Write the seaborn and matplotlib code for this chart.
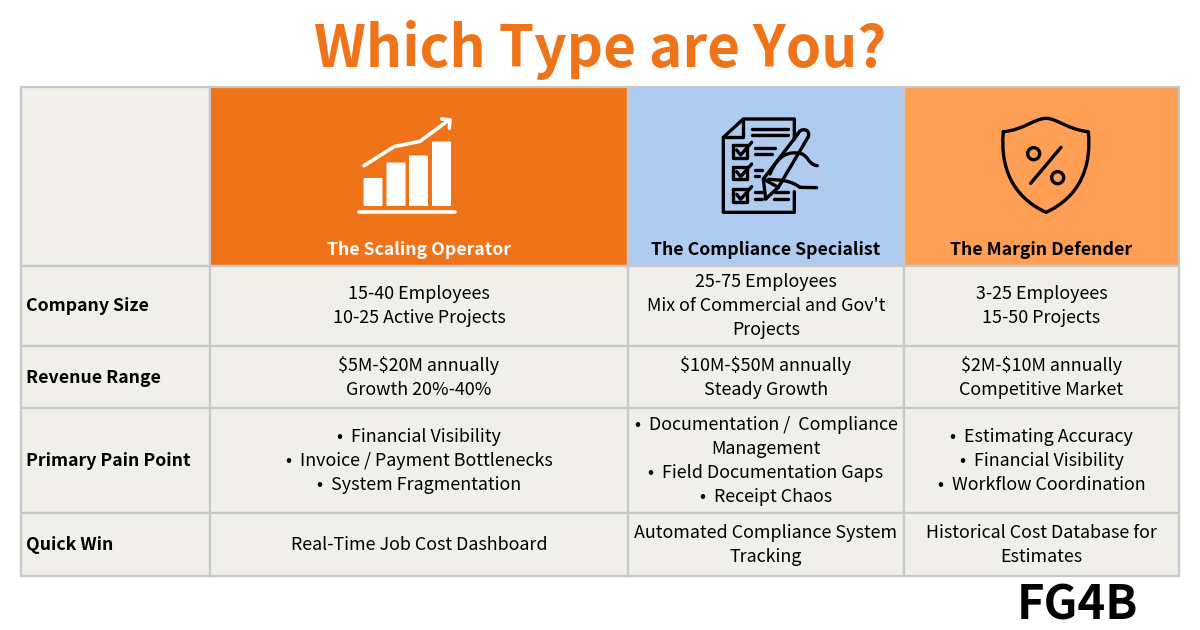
import matplotlib
matplotlib.use("Agg")
import matplotlib.pyplot as plt
import seaborn as sns
from matplotlib.patches import Rectangle, Circle, PathPatch, FancyBboxPatch
from matplotlib.path import Path

# table content
title = "Which Type are You?"
brand = "FG4B"
personas = ["The Scaling Operator", "The Compliance Specialist", "The Margin Defender"]
row_labels = ["Company Size", "Revenue Range", "Primary Pain Point", "Quick Win"]
company_size = [
    ["15-40 Employees", "10-25 Active Projects"],
    ["25-75 Employees", "Mix of Commercial and Gov't", "Projects"],
    ["3-25 Employees", "15-50 Projects"],
]
revenue_range = [
    [r"\$5M-\$20M annually", "Growth 20%-40%"],
    [r"\$10M-\$50M annually", "Steady Growth"],
    [r"\$2M-\$10M annually", "Competitive Market"],
]
pain_point = [
    ["•  Financial Visibility", "•  Invoice / Payment Bottlenecks", "•  System Fragmentation"],
    ["•  Documentation /  Compliance", "Management", "•  Field Documentation Gaps", "•  Receipt Chaos"],
    ["•  Estimating Accuracy", "•  Financial Visibility", "•  Workflow Coordination"],
]
quick_win = [
    ["Real-Time Job Cost Dashboard"],
    ["Automated Compliance System", "Tracking"],
    ["Historical Cost Database for", "Estimates"],
]
rows = [company_size, revenue_range, pain_point, quick_win]
icon_bar_heights = [28, 43.5, 50.5, 64.5]

# layout in pixels
col_edges = [21, 210, 628, 904, 1179]
row_edges = [87, 266, 346, 408, 513, 576]
row_centers = [305, 377, 459.7, 544]
header_colors = ["#EF7318", "#AFCBEF", "#FF9F55"]
header_text = ["white", "black", "black"]
ORANGE = "#EF7318"
CELL = "#F0EFEA"
BORDER = "#C8C8C8"
LINE_H = 24

sns.set_theme(style="white")
plt.rcParams["font.family"] = ["Noto Sans CJK JP", "DejaVu Sans"]

fig = plt.figure(figsize=(12, 6.3), dpi=100, facecolor="white")
ax = fig.add_axes([0, 0, 1, 1])
ax.set_xlim(0, 1200)
ax.set_ylim(630, 0)
ax.axis("off")


def cell(x0, y0, x1, y1, color):
    ax.add_patch(Rectangle((x0, y0), x1 - x0, y1 - y0, facecolor=color,
                           edgecolor=BORDER, linewidth=1.6))


def stroke(pts, color="black", lw=2.4):
    xs, ys = zip(*pts)
    ax.plot(xs, ys, color=color, lw=lw, solid_capstyle="round", solid_joinstyle="round")


def curve(verts, color="black", lw=2.4):
    # verts: start point then triples of bezier points
    codes = [Path.MOVETO] + [Path.CURVE4] * (len(verts) - 1)
    ax.add_patch(PathPatch(Path(verts, codes), facecolor="none", edgecolor=color,
                           lw=lw, capstyle="round", joinstyle="round"))


# grid
for r in range(len(row_edges) - 1):
    for c in range(len(col_edges) - 1):
        color = CELL
        if r == 0 and c > 0:
            color = header_colors[c - 1]
        cell(col_edges[c], row_edges[r], col_edges[c + 1], row_edges[r + 1], color)

# title and brand
ax.text(600, 67, title, ha="center", va="baseline", fontsize=40.8, fontweight="bold", color=ORANGE)
ax.text(1077, 620, brand, ha="center", va="baseline", fontsize=34, fontweight="bold", color="black")

# header names
for c, name in enumerate(personas):
    xc = (col_edges[c + 1] + col_edges[c + 2]) / 2
    ax.text(xc, 255, name, ha="center", va="baseline", fontsize=12.75, fontweight="bold", color=header_text[c])

# body
for r, row in enumerate(rows):
    yc = row_centers[r]
    ax.text(26, yc + 6, row_labels[r], ha="left", va="baseline", fontsize=12.75, fontweight="bold", color="black")
    for c, lines in enumerate(row):
        xc = (col_edges[c + 1] + col_edges[c + 2]) / 2
        top = yc - LINE_H * (len(lines) - 1) / 2
        for i, line in enumerate(lines):
            ax.text(xc, top + i * LINE_H + 6, line, ha="center", va="baseline", fontsize=12.9, color="black")

# icon 1: rising bars
bar_x = [373, 396, 418.5, 441.5]
for x, h in zip(bar_x, icon_bar_heights):
    ax.add_patch(FancyBboxPatch((x - 8.5, 207 - h), 17, h - 2, boxstyle="round,pad=1",
                                facecolor="white", edgecolor="none"))
stroke([(359, 211.5), (455, 211.5)], "white", 2.6)
stroke([(364, 165.7), (394, 146.7), (420, 141.3), (448, 120.7)], "white", 2.6)
stroke([(441.7, 119), (450, 120), (449.3, 128.3)], "white", 2.6)


# icon 2: checklist, coordinates from a 3x crop at (700, 100)
def p2(x, y):
    return (700 + x / 3, 100 + y / 3)


def s2(pts, lw=2.4):
    stroke([p2(*q) for q in pts], "black", lw)


s2([(283, 118), (283, 57), (130, 57), (70, 112), (70, 337), (283, 337), (283, 275)])
s2([(130, 57), (130, 112), (70, 112)])
s2([(157, 87), (265, 87)])
s2([(157, 105), (265, 105)])
s2([(165, 145), (225, 145)])
s2([(165, 163), (215, 163)])
s2([(165, 210), (185, 210)])
s2([(165, 228), (178, 228)])
s2([(165, 277), (185, 277)])
s2([(165, 297), (185, 297)])
s2([(225, 277), (265, 277)])
s2([(222, 297), (265, 297)])
for top in (135, 200, 268):
    s2([(100, top), (140, top), (140, top + 38), (100, top + 38), (100, top)])
    s2([(110, top + 15), (122, top + 30), (155, top - 8)])
# pen
s2([(197, 297), (190, 237), (293, 103)])
s2([(197, 297), (235, 262), (325, 110)])
curve([p2(293, 103), p2(300, 82), p2(332, 85), p2(325, 110)])
s2([(190, 237), (235, 262)])
# hand
curve([p2(210, 222), p2(235, 160), p2(270, 155), p2(300, 160)])
curve([p2(300, 160), p2(325, 165), p2(325, 195), p2(352, 197)])
curve([p2(205, 238), p2(240, 240), p2(270, 240), p2(300, 262)])
s2([(300, 262), (350, 263)])


# icon 3: shield with percent
def p3(x, y):
    return (980 + x / 3, 100 + y / 3)


curve([p3(70, 95), p3(130, 90), p3(165, 55), p3(198, 55),
       p3(231, 55), p3(266, 90), p3(325, 95),
       p3(335, 200), p3(300, 290), p3(198, 337),
       p3(96, 290), p3(60, 200), p3(70, 95)])
stroke([p3(152, 250), p3(243, 142)])
for cx, cy in [(161, 161), (233, 233)]:
    ax.add_patch(Circle(p3(cx, cy), 6.0, facecolor="none", edgecolor="black", lw=2.4))

fig.savefig("out.png", dpi=100)
plt.close()
